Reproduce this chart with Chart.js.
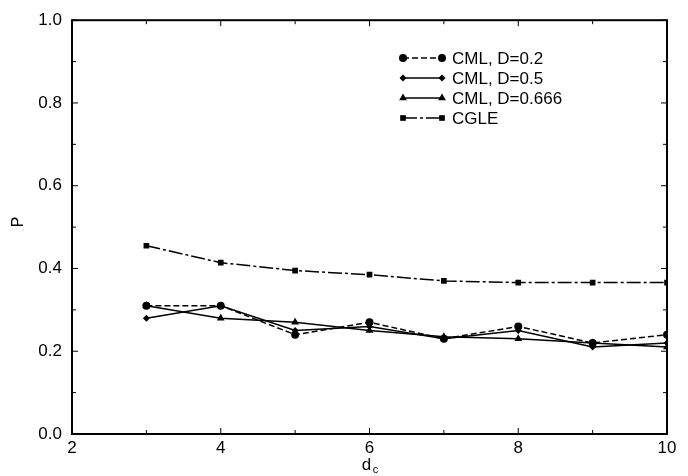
<!DOCTYPE html>
<html>
<head>
<meta charset="utf-8">
<script src="https://cdn.jsdelivr.net/npm/chart.js@4"></script>
<style>
  html, body { margin: 0; padding: 0; background: #fff; }
  #box { width: 688px; height: 476px; }
</style>
</head>
<body>
<div id="box"><canvas id="grafico"></canvas></div>
<script>
// dados
const dc = [3, 4, 5, 6, 7, 8, 9, 10];
const cmlD02 = [0.31, 0.31, 0.24, 0.27, 0.23, 0.26, 0.22, 0.24];
const cmlD05 = [0.28, 0.31, 0.25, 0.26, 0.23, 0.25, 0.21, 0.22];
const cmlD0666 = [0.31, 0.28, 0.27, 0.25, 0.235, 0.23, 0.22, 0.21];
const cgle = [0.455, 0.414, 0.395, 0.385, 0.37, 0.366, 0.366, 0.366];
const yTicks = [0, 0.2, 0.4, 0.6, 0.8, 1.0];
const xTicks = [2, 4, 6, 8, 10];

const fonte = '"Liberation Sans", Arial, sans-serif';

function pontos(ys) {
    return dc.map((x, i) => ({ x: x, y: ys[i] }));
}

function serie(label, ys, estilo, raio, tracejado) {
    return {
        label: label,
        data: pontos(ys),
        borderColor: '#000',
        backgroundColor: '#000',
        borderWidth: 1.5,
        borderDash: tracejado,
        pointStyle: estilo,
        pointRadius: raio,
        pointBackgroundColor: '#000',
        pointBorderColor: '#000',
        pointBorderWidth: 0,
        tension: 0,
    };
}

// moldura, marcas internas, legenda e títulos
const extras = {
    id: 'extras',
    afterDraw(chart) {
        const ctx = chart.ctx;
        const a = chart.chartArea;
        const sx = chart.scales.x;
        const sy = chart.scales.y;
        ctx.save();
        ctx.strokeStyle = '#000';
        ctx.lineWidth = 2;
        ctx.strokeRect(a.left, a.top, a.right - a.left, a.bottom - a.top);

        ctx.lineWidth = 1;
        ctx.beginPath();
        for (let v = 2; v <= 10; v++) {
            const px = sx.getPixelForValue(v);
            const len = v % 2 === 0 ? 6 : 4;
            ctx.moveTo(px, a.bottom); ctx.lineTo(px, a.bottom - len);
            ctx.moveTo(px, a.top); ctx.lineTo(px, a.top + len);
        }
        for (let k = 0; k <= 10; k++) {
            const py = sy.getPixelForValue(k / 10);
            const len = k % 2 === 0 ? 6 : 4;
            ctx.moveTo(a.left, py); ctx.lineTo(a.left + len, py);
            ctx.moveTo(a.right, py); ctx.lineTo(a.right - len, py);
        }
        ctx.stroke();

        // legenda
        const x0 = 403, x1 = 442, xt = 452;
        const linhas = [58, 78, 98, 118];
        chart.data.datasets.forEach((ds, i) => {
            const y = linhas[i];
            ctx.strokeStyle = '#000';
            ctx.lineWidth = 1.3;
            ctx.setLineDash(ds.borderDash || []);
            ctx.beginPath();
            ctx.moveTo(x0, y); ctx.lineTo(x1, y);
            ctx.stroke();
            ctx.setLineDash([]);
            ctx.fillStyle = '#000';
            Chart.helpers.drawPoint(ctx, { pointStyle: ds.pointStyle, radius: ds.pointRadius, borderWidth: 0 }, x0, y);
            Chart.helpers.drawPoint(ctx, { pointStyle: ds.pointStyle, radius: ds.pointRadius, borderWidth: 0 }, x1, y);
            ctx.fillStyle = '#000';
            ctx.font = '17px ' + fonte;
            ctx.textAlign = 'left';
            ctx.textBaseline = 'middle';
            ctx.fillText(ds.label, xt, y + 1);
        });

        // títulos dos eixos
        ctx.fillStyle = '#000';
        ctx.font = '17px ' + fonte;
        ctx.textAlign = 'center';
        ctx.textBaseline = 'middle';
        const cx = (a.left + a.right) / 2;
        ctx.fillText('d', cx - 3, 465);
        ctx.font = '11px ' + fonte;
        ctx.fillText('c', cx + 6, 470);

        ctx.save();
        ctx.translate(19, 222);
        ctx.rotate(-Math.PI / 2);
        ctx.font = '16px ' + fonte;
        ctx.fillText('P', 0, 0);
        ctx.restore();
        ctx.restore();
    }
};

const config = {
    type: 'line',
    data: {
        datasets: [
            serie('CML, D=0.2', cmlD02, 'circle', 4, [6, 3]),
            serie('CML, D=0.5', cmlD05, 'rectRot', 3.5, []),
            serie('CML, D=0.666', cmlD0666, 'triangle', 4.5, []),
            serie('CGLE', cgle, 'rect', 4, [14, 3, 3, 3]),
        ]
    },
    options: {
        responsive: true,
        maintainAspectRatio: false,
        animation: false,
        layout: { padding: { top: 16, right: 21, left: 0, bottom: 0 } },
        plugins: {
            legend: { display: false },
            tooltip: { enabled: false },
        },
        scales: {
            x: {
                type: 'linear',
                min: 2,
                max: 10,
                afterBuildTicks: (s) => { s.ticks = xTicks.map(v => ({ value: v })); },
                afterFit: (s) => { s.height = 42; },
                ticks: { color: '#000', font: { size: 17, family: fonte }, padding: 4, maxRotation: 0 },
                grid: { display: false, drawTicks: false },
                border: { display: false },
            },
            y: {
                min: 0,
                max: 1,
                afterBuildTicks: (s) => { s.ticks = yTicks.map(v => ({ value: v })); },
                afterFit: (s) => { s.width = 72; },
                ticks: {
                    color: '#000',
                    font: { size: 17, family: fonte },
                    padding: 10,
                    callback: (v) => Number(v).toFixed(1),
                },
                grid: { display: false, drawTicks: false },
                border: { display: false },
            }
        }
    },
    plugins: [extras]
};

new Chart(document.getElementById('grafico'), config);
</script>
</body>
</html>
